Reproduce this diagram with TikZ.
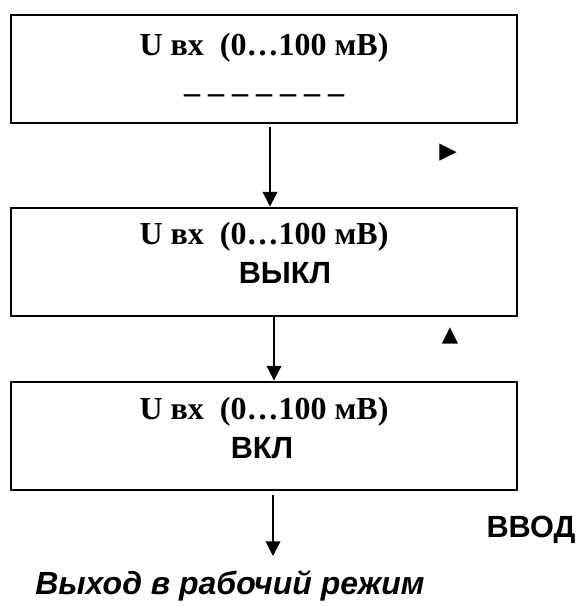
\documentclass[tikz,border=0pt]{standalone}
\usepackage{fontspec}
\setmainfont{Liberation Serif}
\setsansfont{Liberation Sans}
\newfontfamily\symfont{DejaVu Sans}
\usetikzlibrary{arrows.meta}

\begin{document}
\begin{tikzpicture}[
            x=0.75pt, y=-0.75pt,
            screen/.style = {draw, line width=1.5pt, minimum width=379.5pt, minimum height=81pt, inner sep=0},
            valtext/.style = {anchor=base, inner sep=0, font=\bfseries\fontsize{24}{27}\selectfont},
            modetext/.style = {anchor=base, inner sep=0, font=\sffamily\bfseries\fontsize{23}{26}\selectfont},
            keymark/.style = {inner sep=0, font=\symfont\fontsize{16}{18}\selectfont},
            flow/.style = {-{Triangle[width=11pt, length=11pt]}, line width=1pt}
          ]
          \useasboundingbox (0,0) rectangle (583,607);

          \node[screen] (box1) at (264,69) {};
          \node[valtext] (val1) at (264,55) {U вх\ \ (0…100 мВ)};
          \node[valtext] (dash1) at (264,92) {\_ \_ \_ \_ \_ \_ \_};

          \node[screen] (box2) at (264,261.5) {};
          \node[valtext] (val2) at (264,244) {U вх\ \ (0…100 мВ)};
          \node[modetext] (off) at (285,283) {ВЫКЛ};

          \node[screen] (box3) at (264,435.5) {};
          \node[valtext] (val3) at (264,419) {U вх\ \ (0…100 мВ)};
          \node[modetext] (on) at (262,458) {ВКЛ};

          \node[keymark, font=\symfont\fontsize{17}{19}\selectfont] (right) at (448,153) {▶};
          \node[keymark] (up) at (450,336) {▲};
          \node[modetext] (enter) at (531,537) {ВВОД};
          \node[modetext, anchor=base west, font=\sffamily\bfseries\itshape\fontsize{24}{27}\selectfont] (exit) at (35,594) {Выход в рабочий режим};
          \coordinate (exitpt) at (273,556);

          \draw[flow, shorten <=2.25pt] ([xshift=4.5pt]box1.south) -- ([xshift=4.5pt]box2.north);
          \draw[flow] ([xshift=7.5pt]box2.south) -- ([xshift=7.5pt]box2.south |- box3.north);
          \draw[flow, shorten <=3pt] ([xshift=6.75pt]box3.south) -- (exitpt);
        \end{tikzpicture}
\end{document}
